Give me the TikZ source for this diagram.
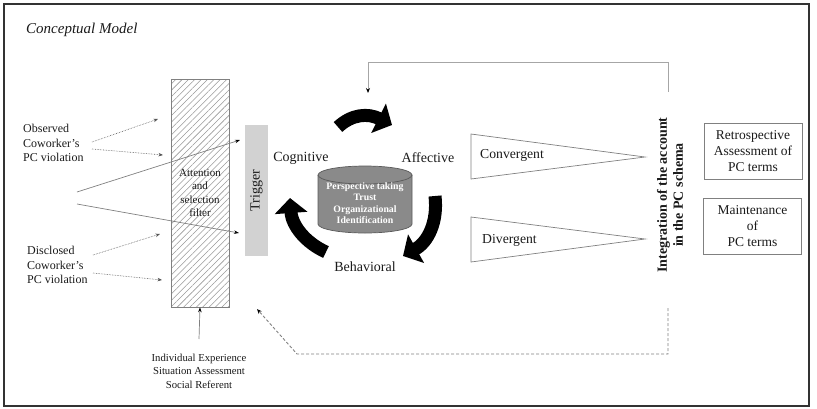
\documentclass[tikz,border=0pt]{standalone}
\usepackage{fontspec}
\setmainfont{Liberation Serif}
\usetikzlibrary{arrows.meta,patterns.meta}
\newcommand\fsz[2]{\fontsize{#1}{#2}\selectfont}
\definecolor{frameC}{HTML}{333333}
\definecolor{lineC}{HTML}{808080}
\definecolor{dotC}{HTML}{555555}
\definecolor{cylC}{HTML}{8A8A8A}
\definecolor{cylD}{HTML}{5A5A5A}
\definecolor{trigC}{HTML}{D2D2D2}
\definecolor{txtC}{HTML}{1A1A1A}
\tikzset{
  txt/.style={inner sep=0pt, text=txtC},
  dotarrow/.style={dotC, densely dotted, line width=0.6pt, -{Stealth[length=4.5pt,width=3.5pt]}},
  solarrow/.style={lineC, line width=0.7pt, -{Stealth[length=5pt,width=3.5pt,color=black,fill=black]}},
  cyc/.style={black, line width=13pt, -{Triangle[length=15pt,width=32pt]}},
  tri/.style={draw=lineC, line width=0.7pt},
  box/.style={draw=lineC, line width=0.7pt, align=center, text=txtC, inner sep=0pt,
              minimum width=98pt, minimum height=56pt, font=\fsz{13.5}{16}},
  fbline/.style={lineC!70, line width=1pt},
  fbdash/.style={lineC, line width=0.9pt, dash pattern=on 3pt off 2pt},
  cyclabel/.style={txt, font=\fsz{14}{16}}
}
\begin{document}
\begin{tikzpicture}[x=1pt,y=-1pt]
\useasboundingbox (0,0) rectangle (817,408);
\draw[frameC, line width=1.6pt] (4,4) rectangle (809,406);

% title
\node[txt, anchor=west, font=\itshape\fsz{15}{18}] (title) at (26,30) {Conceptual Model};

% left texts
\node[txt, anchor=west, align=left, font=\fsz{12}{14.5}] (obs) at (23,143) {Observed\\Coworker’s\\PC violation};
\node[txt, anchor=west, align=left, font=\fsz{12}{14.5}] (disc) at (27,265) {Disclosed\\Coworker’s\\PC violation};

% filter
\node[draw=lineC, line width=0.7pt, pattern={Lines[angle=45,distance=4.5pt,line width=0.55pt]}, pattern color=gray!80,
      minimum width=58pt, minimum height=228pt, inner sep=0pt] (filter) at (200,193) {};
\node[txt, align=center, font=\fsz{11}{13.2}] (filtxt) at (200,193) {Attention\\and\\selection\\filter};

% trigger
\node[fill=trigC, rotate=90, minimum width=131pt, minimum height=23pt, inner sep=0pt,
      text=txtC, font=\fsz{14}{16}] (trig) at (256.5,190.5) {Trigger};

% dotted arrows
\coordinate (o1) at (92,142);
\coordinate (o2) at (92,149);
\coordinate (q1) at (93,255);
\coordinate (q2) at (93,273);
\coordinate (d1) at (158,119);
\coordinate (d2) at (163,155);
\coordinate (d3) at (160,234);
\coordinate (d4) at (162,280);
\draw[dotarrow] (o1) -- (d1);
\draw[dotarrow] (o2) -- (d2);
\draw[dotarrow] (q1) -- (d3);
\draw[dotarrow] (q2) -- (d4);

% solid lines to trigger
\coordinate (s0a) at (77,192);
\coordinate (s0b) at (77,204);
\coordinate (t1) at (240,140);
\coordinate (t2) at (239,233);
\draw[solarrow] (s0a) -- (t1);
\draw[solarrow] (s0b) -- (t2);

% bottom influences
\node[txt, align=center, font=\fsz{10.7}{13.5}] (ind) at (199,371) {Individual Experience\\Situation Assessment\\Social Referent};
\coordinate (indtop) at (199,339);
\draw[solarrow] (indtop) -- (filter.south);

% cylinder
\fill[cylC] (318,175) -- (318,224) arc[start angle=180, end angle=360, x radius=47pt, y radius=9pt] -- (412,175) -- cycle;
\draw[cylD, line width=0.7pt] (318,175) -- (318,224) arc[start angle=180, end angle=360, x radius=47pt, y radius=9pt] -- (412,175);
\draw[cylD, line width=0.7pt, fill=cylC] (365,175) ellipse[x radius=47pt, y radius=9pt];
\node[txt, text=white, align=center, font=\bfseries\fsz{9.8}{11.4}] (cyl) at (365,203) {Perspective taking\\Trust\\Organizational\\Identification};

% cycle labels
\node[cyclabel] (cog) at (301,158) {Cognitive};
\node[cyclabel] (aff) at (428,158) {Affective};
\node[cyclabel] (beh) at (365,267) {Behavioral};

% cycle arrows
\draw[cyc] (338,127) .. controls (352,114) and (368,113) .. (392,125);
\draw[cyc] (435,196) .. controls (438,222) and (428,242) .. (403,256);
\draw[cyc] (326,252) .. controls (306,243) and (292,226) .. (290,198);

% outcome triangles
\draw[tri] (471,134) -- (645,157) -- (471,179) -- cycle;
\draw[tri] (471,217) -- (645,239) -- (471,262) -- cycle;
\node[txt, anchor=west, font=\fsz{13.7}{16}] (conv) at (480,155) {Convergent};
\node[txt, anchor=west, font=\fsz{13.7}{16}] (div) at (482,240) {Divergent};

% integration
\node[txt, rotate=90, align=center, font=\bfseries\fsz{14}{16}] (integ) at (670,195) {Integration of the account\\in the PC schema};

% result boxes
\node[box] (retro) at (753,151) {Retrospective\\Assessment of\\PC terms};
\node[box] (maint) at (752.5,226.5) {Maintenance\\of\\PC terms};

% feedback loops
\coordinate (fbtop) at (668,92);
\coordinate (fbtopend) at (368,93);
\draw[fbline, -{Stealth[length=5pt,width=4pt,color=black,fill=black]}] (fbtop) -- (fbtop |- 0,62) -- (fbtopend |- 0,62) -- (fbtopend);
\coordinate (fbbot) at (668,308);
\coordinate (fbcorner) at (297,354);
\coordinate (fbend) at (257,309);
\draw[fbdash, -{Stealth[length=5pt,width=4pt,color=black,fill=black]}] (fbbot) -- (fbbot |- fbcorner) -- (fbcorner) -- (fbend);
\end{tikzpicture}
\end{document}
